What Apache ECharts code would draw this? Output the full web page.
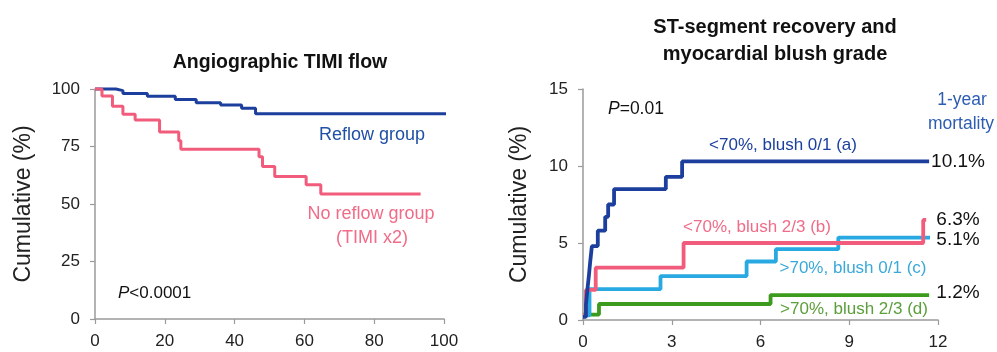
<!DOCTYPE html>
<html><head><meta charset="utf-8">
<script src="https://cdn.jsdelivr.net/npm/echarts@6/dist/echarts.min.js"></script>
<style>html,body{margin:0;padding:0;background:#fff}#c{width:997px;height:352px}</style>
</head><body><div id="c"></div>
<script>
// Left panel: Angiographic TIMI flow (Kaplan-Meier survival, %)
const leftXTicks = [0, 20, 40, 60, 80, 100];
const leftYTicks = [0, 25, 50, 75, 100];
const reflowX = [0, 6, 8, 15, 23, 29, 36, 42, 46, 101.5];
const reflowY = [100, 99.3, 98, 96.8, 95.4, 94, 93, 91.6, 89.2, 89.2];
const noReflowX = [0, 2, 5, 8, 11.5, 18.5, 24, 24.6, 47, 48, 51.5, 60.5, 64.7, 93.3];
const noReflowY = [100, 97, 92.5, 89, 86.5, 81.3, 77.5, 73.8, 70.5, 66.3, 62, 58.4, 54.4, 54.4];

// Right panel: ST-segment recovery and myocardial blush grade (cumulative mortality, %)
const rightXTicks = [0, 3, 6, 9, 12];
const rightYTicks = [0, 5, 10, 15];
const aX = [0, 0.1, 0.15, 0.2, 0.25, 0.3, 0.5, 0.75, 0.85, 1.05, 2.8, 3.35, 11.7];
const aY = [0.2, 1, 2, 2.9, 3.9, 4.8, 5.8, 6.7, 7.5, 8.5, 9.3, 10.3, 10.3];
const bX = [0, 0.1, 0.43, 3.4, 11.5, 11.6];
const bY = [0.3, 1.95, 3.4, 5.0, 6.5, 6.5];
const cX = [0, 0.22, 2.62, 5.53, 6.52, 8.63, 11.73];
const cY = [0.3, 2.0, 2.85, 3.8, 4.6, 5.35, 5.35];
const dX = [0, 0.54, 6.34, 11.7];
const dY = [0.35, 1.04, 1.62, 1.62];
const endLabels = ['10.1%', '6.3%', '5.1%', '1.2%'];

const pts = (xs, ys) => xs.map((x, i) => [x, ys[i]]);
const FONT = '"Liberation Sans", Arial, sans-serif';
const axisCommon = {
  axisLine: {show: true, lineStyle: {color: '#9a9a9a', width: 1.5}},
  axisTick: {show: true, length: 5, lineStyle: {color: '#9a9a9a', width: 1.2}},
  splitLine: {show: false},
  axisLabel: {color: '#222', fontSize: 17, fontFamily: FONT}
};
const BLUE = '#1c3f9e', PINK = '#f25c7c', CYAN = '#29a9e1', GREEN = '#3c9a1c';

const chart = echarts.init(document.getElementById('c'), null, {renderer: 'canvas'});
const lineS = (name, xi, yi, data, color, w) => ({
  name, type: 'line', step: 'end', xAxisIndex: xi, yAxisIndex: yi, data,
  symbol: 'none', clip: false, lineStyle: {color, width: w}, animation: false
});
const txt = (x, y, text, color, size, align, extra) => Object.assign({
  type: 'text', x, y,
  style: {text, fill: color, font: (size || 16) + 'px ' + FONT, textAlign: align || 'center', textVerticalAlign: 'middle'}
}, extra || {});
const lbl = (m) => Object.assign({}, axisCommon.axisLabel, {margin: m});

chart.setOption({
  backgroundColor: '#fff',
  animation: false,
  title: [
    {text: 'Angiographic TIMI flow', left: 275, top: 48, textAlign: 'center',
     textStyle: {fontSize: 19.5, fontWeight: 'bold', color: '#111', fontFamily: FONT}},
    {text: 'ST-segment recovery and\nmyocardial blush grade', left: 770, top: 9, textAlign: 'center',
     textStyle: {fontSize: 20, fontWeight: 'bold', color: '#111', fontFamily: FONT, lineHeight: 27}}
  ],
  grid: [
    {left: 95, right: 553, top: 89, bottom: 33},
    {left: 583, right: 59, top: 89, bottom: 32}
  ],
  xAxis: [
    Object.assign({}, axisCommon, {gridIndex: 0, type: 'value', min: 0, max: 100, interval: 20, axisLabel: lbl(14)}),
    Object.assign({}, axisCommon, {gridIndex: 1, type: 'value', min: 0, max: 12, interval: 3, axisLabel: lbl(14)})
  ],
  yAxis: [
    Object.assign({}, axisCommon, {gridIndex: 0, type: 'value', min: 0, max: 100, interval: 25, axisLabel: lbl(15),
      name: 'Cumulative (%)', nameLocation: 'middle', nameGap: 60, nameRotate: 90,
      nameTextStyle: {fontSize: 23, color: '#222', fontFamily: FONT}}),
    Object.assign({}, axisCommon, {gridIndex: 1, type: 'value', min: 0, max: 15, interval: 5, axisLabel: lbl(15),
      name: 'Cumulative (%)', nameLocation: 'middle', nameGap: 52, nameRotate: 90,
      nameTextStyle: {fontSize: 23, color: '#222', fontFamily: FONT}})
  ],
  series: [
    lineS('Reflow group', 0, 0, pts(reflowX, reflowY), BLUE, 3),
    lineS('No reflow group', 0, 0, pts(noReflowX, noReflowY), PINK, 3),
    lineS('d', 1, 1, pts(dX, dY), GREEN, 3.8),
    lineS('c', 1, 1, pts(cX, cY), CYAN, 3.8),
    lineS('b', 1, 1, pts(bX, bY), PINK, 3.8),
    lineS('a', 1, 1, pts(aX, aY), BLUE, 3.8)
  ],
  graphic: [
    txt(372, 135, 'Reflow group', '#2050a5', 18),
    txt(371, 214, 'No reflow group', '#f06c88', 18),
    txt(372, 238, '(TIMI x2)', '#f06c88', 18),
    {type: 'text', x: 118, y: 293, style: {
      text: '{i|P}<0.0001', font: '17px ' + FONT, fill: '#111', textVerticalAlign: 'middle',
      rich: {i: {fontStyle: 'italic', fontSize: 17, fontFamily: FONT, fill: '#111'}}}},
    {type: 'text', x: 608, y: 109, style: {
      text: '{i|P}=0.01', font: '17.5px ' + FONT, fill: '#111', textVerticalAlign: 'middle',
      rich: {i: {fontStyle: 'italic', fontSize: 17.5, fontFamily: FONT, fill: '#111'}}}},
    txt(962, 100, '1-year', '#2d5db3', 17.5),
    txt(961, 124, 'mortality', '#2d5db3', 17.5),
    txt(783, 145, '<70%, blush 0/1 (a)', '#1c3f9e', 17),
    txt(757, 227, '<70%, blush 2/3 (b)', '#f06c88', 17),
    txt(853, 268, '>70%, blush 0/1 (c)', '#3aa9d9', 17),
    txt(854, 309, '>70%, blush 2/3 (d)', '#5b9e3a', 17),
    txt(958, 162, endLabels[0], '#111', 19),
    txt(958, 220, endLabels[1], '#111', 19),
    txt(958, 240, endLabels[2], '#111', 19),
    txt(958, 293, endLabels[3], '#111', 19)
  ]
});
</script></body></html>
